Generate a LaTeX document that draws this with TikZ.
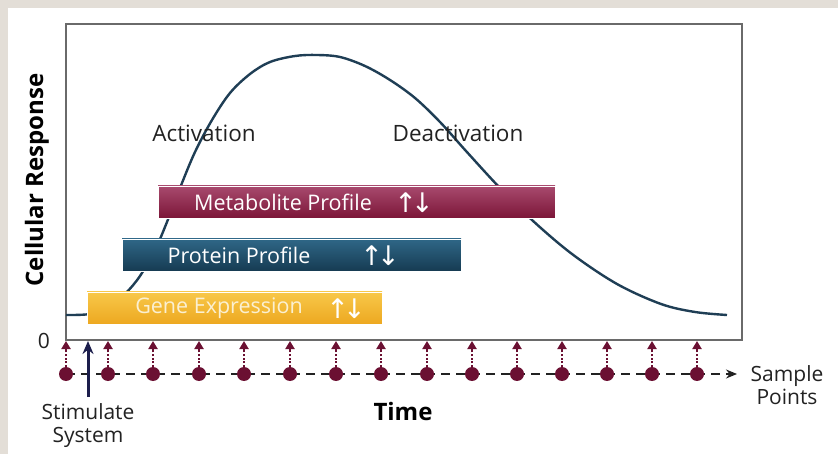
\documentclass[tikz,border=0pt]{standalone}
\usepackage{fontspec}
\setmainfont{Open Sans}
\newfontfamily\arrowfont{DejaVu Sans}
\usetikzlibrary{arrows.meta}
\definecolor{bgbeige}{HTML}{E3DED7}
\definecolor{framegrey}{HTML}{6A6A6A}
\definecolor{curvecol}{HTML}{1F3E55}
\definecolor{metatop}{HTML}{A84A6E}
\definecolor{metabot}{HTML}{7C1638}
\definecolor{prottop}{HTML}{2F6787}
\definecolor{protbot}{HTML}{163B52}
\definecolor{genetop}{HTML}{F8C84A}
\definecolor{genebot}{HTML}{EDA820}
\definecolor{genetext}{HTML}{FBF0D2}
\definecolor{dotcol}{HTML}{6B1032}
\definecolor{stimcol}{HTML}{1C1E4C}
\definecolor{textcol}{HTML}{222222}
\tikzset{
  plotframe/.style={draw=framegrey, line width=2.2pt, minimum width=676pt, minimum height=316pt, inner sep=0pt},
  response/.style={draw=curvecol, line width=2.4pt},
  barbox/.style={rectangle, inner sep=0pt, minimum height=32pt, draw=white, line width=0.6pt},
  bartext/.style={font=\fontsize{21.5}{25}\selectfont, text=white, inner sep=0pt},
  bararrows/.style={font=\arrowfont\fontsize{27}{28}\selectfont, text=white, inner sep=0pt},
  sampledot/.style={circle, fill=dotcol, minimum size=14pt, inner sep=0pt},
  samplearrow/.style={draw=dotcol, line width=2.6pt, dash pattern=on 2pt off 1.6pt, -{Triangle[length=8pt,width=9pt]}},
  timeline/.style={draw=textcol, line width=1.4pt, dash pattern=on 9pt off 6pt, -{Stealth[length=11pt,width=9pt]}},
  stimarrow/.style={draw=stimcol, line width=3pt, -{Stealth[length=13pt,width=11pt]}},
  lbl/.style={font=\fontsize{22.5}{26}\selectfont, text=textcol, inner sep=0pt},
  smalllbl/.style={font=\fontsize{21}{23}\selectfont, text=textcol, inner sep=0pt, align=center},
  boldlbl/.style={font=\bfseries\fontsize{24}{28}\selectfont, text=black, inner sep=0pt}
}
\newcommand{\updown}{↑\kern-0.22em↓}
\begin{document}
\begin{tikzpicture}[x=1pt,y=-1pt]
\useasboundingbox (0,0) rectangle (838,454);
\fill[white] (0,0) rectangle (838,454);
\fill[bgbeige] (0,0) rectangle (838,8);
\fill[bgbeige] (0,0) rectangle (8,454);
% frame
\node[plotframe] (frame) at (404,182) {};
% response curve
\draw[response] plot[smooth, tension=0.55] coordinates {(66,315) (90,314) (110,307) (126,293) (140,276) (155,250) (167,222) (180,188) (195,152) (212,120) (230,93) (250,74) (270,62) (295,56) (317,55) (340,57) (365,66) (390,80) (415,98) (440,122) (466,151) (499,187) (532,220) (572,254) (617,284) (661,304) (695,312) (727,315)};
% bars
\node[barbox, top color=metatop, bottom color=metabot, minimum width=397pt] (meta) at (356.5,202) {};
\node[barbox, top color=prottop, bottom color=protbot, minimum width=339pt] (prot) at (291.5,255) {};
\node[barbox, top color=genetop, bottom color=genebot, minimum width=295pt] (gene) at (234.5,308) {};
\node[bartext] (metatxt) at (283,202) {Metabolite Profile};
\node[bararrows] (metaarr) at (414,203) {\updown};
\node[bartext] (prottxt) at (239,255) {Protein Profile};
\node[bararrows] (protarr) at (380,256) {\updown};
\node[bartext, text=genetext] (genetxt) at (219,308) {Gene Expression};
\node[bararrows] (genearr) at (346,309) {\updown};
% phase labels
\node[lbl] (act) at (204,133) {Activation};
\node[lbl] (deact) at (458,133) {Deactivation};
% axis labels
\node[boldlbl, rotate=90] (ylab) at (37,180) {Cellular Response};
\node[smalllbl] (zero) at (44,341) {0};
\node[boldlbl] (time) at (403,411) {Time};
% sample points
\coordinate (tend) at (737,374);
\foreach \i/\x in {1/66,2/108,3/153,4/199,5/244,6/290,7/336,8/381,9/427,10/472,11/517,12/562,13/607,14/652,15/697} {
  \coordinate (t\i) at (\x,341);
  \coordinate (c\i) at (\x,374);
}
\draw[timeline] (c1) -- (tend);
\foreach \i/\x in {1/66,2/108,3/153,4/199,5/244,6/290,7/336,8/381,9/427,10/472,11/517,12/562,13/607,14/652,15/697} {
  \node[sampledot] (s\i) at (c\i) {};
  \draw[samplearrow] (s\i) -- (t\i);
}
\node[smalllbl] (samp) at (787,385) {Sample\\Points};
% stimulate
\coordinate (stimbase) at (88,397);
\coordinate (stimtip) at (88,341);
\draw[stimarrow] (stimbase) -- (stimtip);
\node[smalllbl] (stim) at (88,426) {Stimulate\\System};
\end{tikzpicture}
\end{document}
